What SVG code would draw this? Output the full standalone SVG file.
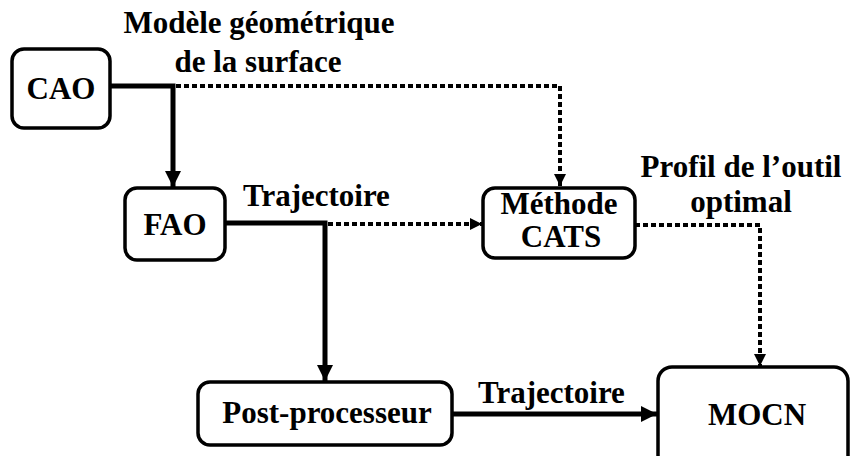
<svg xmlns="http://www.w3.org/2000/svg" width="850" height="456" viewBox="0 0 850 456">
<defs>
<style>
.box{fill:#fff;stroke:#000;stroke-width:3.5}
.t{font-family:"Liberation Serif","Times New Roman",serif;font-weight:bold;font-size:31px;fill:#000}
.m{text-anchor:middle}
.solid{fill:none;stroke:#000;stroke-width:5}
.dot{fill:none;stroke:#000;stroke-width:4;stroke-dasharray:5 3}
</style>
<marker id="ah" markerUnits="userSpaceOnUse" markerWidth="16" markerHeight="16" viewBox="0 0 16 16" refX="16" refY="8" orient="auto">
<path d="M0,0 L16,8 L0,16 Z" fill="#000"/>
</marker>
<marker id="ahs" markerUnits="userSpaceOnUse" markerWidth="12" markerHeight="12" viewBox="0 0 12 12" refX="12" refY="6" orient="auto">
<path d="M0,0 L12,6 L0,12 Z" fill="#000"/>
</marker>
</defs>
<rect width="850" height="456" fill="#fff"/>
<g id="connectors">
<path class="solid" d="M110,86 H173 V187" marker-end="url(#ah)"/>
<path class="dot" d="M176,86 H560 V186" marker-end="url(#ahs)"/>
<path class="solid" d="M225,223 H325 V381" marker-end="url(#ah)"/>
<path class="dot" d="M328,224 H482" marker-end="url(#ahs)"/>
<path class="dot" d="M635,225 H760 V366" marker-end="url(#ahs)"/>
<path class="solid" d="M452,414 H657" marker-end="url(#ah)"/>
</g>
<g id="labels">
<text class="t m" x="259" y="33">Modèle géométrique</text>
<text class="t m" x="258" y="72">de la surface</text>
<text class="t" x="243" y="206">Trajectoire</text>
<text class="t m" x="741" y="177">Profil de l’outil</text>
<text class="t m" x="741" y="212">optimal</text>
<text class="t" x="478" y="403">Trajectoire</text>
</g>
<g id="cao">
<rect class="box" x="12" y="49" width="98" height="79" rx="12"/>
<text class="t m" x="61" y="99">CAO</text>
</g>
<g id="fao">
<rect class="box" x="125" y="188" width="100" height="72" rx="12"/>
<text class="t m" x="175" y="235">FAO</text>
</g>
<g id="cats">
<rect class="box" x="483" y="188" width="152" height="70" rx="12"/>
<text class="t m" x="559" y="214">Méthode</text>
<text class="t m" x="561" y="247">CATS</text>
</g>
<g id="post">
<rect class="box" x="198" y="382" width="254" height="63" rx="12"/>
<text class="t m" x="327" y="423">Post-processeur</text>
</g>
<g id="mocn">
<rect class="box" x="658" y="367" width="190" height="110" rx="14"/>
<text class="t m" x="757" y="425">MOCN</text>
</g>
</svg>
